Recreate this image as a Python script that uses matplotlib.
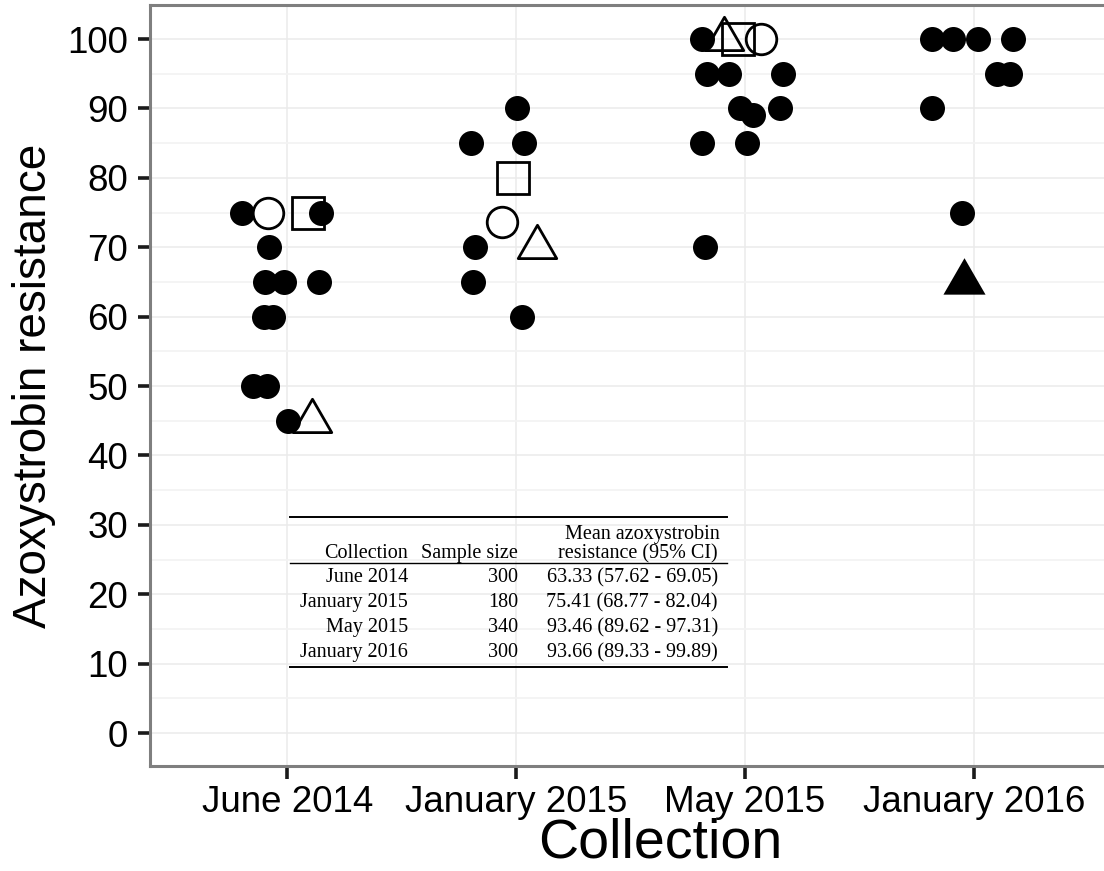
import numpy as np
import matplotlib
matplotlib.use("Agg")
import matplotlib.pyplot as plt
from matplotlib.path import Path
from matplotlib.markers import MarkerStyle

plt.rcParams['font.family'] = ['Liberation Sans', 'DejaVu Sans']

collections = ["June 2014", "January 2015", "May 2015", "January 2016"]

# one entry per isolate: collection index, horizontal jitter, resistance, symbol
pt_group = [0] * 14 + [1] * 9 + [2] * 13 + [3] * 9
pt_jitter = [-0.200, 0.148, -0.079, -0.096, -0.013, 0.140, -0.100, -0.061,
             -0.148, -0.087, 0.004, -0.083, 0.092, 0.109,
             0.004, -0.197, 0.035, -0.179, -0.188, 0.026, -0.013, -0.061, 0.092,
             -0.188, -0.166, -0.070, 0.166, -0.022, 0.035, 0.153, -0.188, 0.009,
             -0.175, -0.092, -0.031, 0.070,
             -0.183, -0.092, 0.017, 0.170, 0.100, 0.157, -0.183, -0.052, -0.044]
pt_value = [75, 75, 70, 65, 65, 65, 60, 60, 50, 50, 45, 75, 75, 45,
            90, 85, 85, 70, 65, 60, 80, 73.7, 70,
            100, 95, 95, 95, 90, 89, 90, 85, 85, 70, 100, 100, 100,
            100, 100, 100, 100, 95, 95, 90, 75, 65]
pt_kind = (["dot"] * 11 + ["circle", "square", "triangle"]
           + ["dot"] * 6 + ["square", "circle", "triangle"]
           + ["dot"] * 10 + ["triangle", "square", "circle"]
           + ["dot"] * 8 + ["solid_triangle"])

# summary table
tbl_collection = ["June 2014", "January 2015", "May 2015", "January 2016"]
tbl_n = [300, 180, 340, 300]
tbl_mean = [63.33, 75.41, 93.46, 93.66]
tbl_lo = [57.62, 68.77, 89.62, 89.33]
tbl_hi = [69.05, 82.04, 97.31, 99.89]

W, H = 1104, 871
fig = plt.figure(figsize=(W / 100, H / 100), dpi=100)
ax = fig.add_axes([150 / W, 1 - 766 / H, 961 / W, 761 / H])

tri_path = Path([(0, 1), (0.866, -0.5), (-0.866, -0.5), (0, 1)],
                [Path.MOVETO, Path.LINETO, Path.LINETO, Path.CLOSEPOLY])
styles = {
    "dot": dict(marker="o", ms=18, mfc="black", mec="none", mew=0),
    "circle": dict(marker="o", ms=22, mfc="white", mec="black", mew=2.0),
    "square": dict(marker=MarkerStyle("s", joinstyle="miter"), ms=22.5,
                   mfc="none", mec="black", mew=2.0),
    "triangle": dict(marker=MarkerStyle(tri_path, joinstyle="miter"), ms=32,
                     mfc="none", mec="black", mew=2.0),
    "solid_triangle": dict(marker=MarkerStyle(tri_path), ms=35,
                           mfc="black", mec="none", mew=0),
}

xs = np.array(pt_group) + 1 + np.array(pt_jitter)
vals = np.array(pt_value)
kinds = np.array(pt_kind)
for k in ["dot", "circle", "square", "triangle", "solid_triangle"]:
    m = kinds == k
    ax.plot(xs[m], vals[m], ls="none", zorder=3, **styles[k])

ax.set_xlim(0.4, 4.6)
ax.set_ylim(-4.75, 104.9)
ax.set_xticks(range(1, 5))
ax.set_xticklabels(collections)
ax.set_yticks(range(0, 101, 10))
ax.set_yticks(np.arange(5, 100, 10), minor=True)
ax.grid(which="major", color="#EBEBEB", lw=1.1, zorder=0)
ax.grid(which="minor", axis="y", color="#F3F3F3", lw=1.3, zorder=0)
ax.set_axisbelow(True)
ax.tick_params(which="major", length=9, width=2.6, color="#1a1a1a",
               labelsize=26.5, pad=5)
ax.tick_params(axis="y", pad=7)
ax.tick_params(which="minor", length=0)
for s in ax.spines.values():
    s.set_color("#7F7F7F")
    s.set_linewidth(2.2)
ax.spines["right"].set_visible(False)

ax.set_xlabel("Collection", fontsize=40, va="baseline")
ax.xaxis.set_label_coords((660 - 150) / 961, (766 - 857) / 761)
ax.set_ylabel("Azoxystrobin resistance", fontsize=33, labelpad=8)

# table drawn in figure pixel coordinates
def fx(px):
    return px / W

def fy(py):
    return 1 - py / H

serif = dict(family="Liberation Serif", fontsize=14.5, color="black",
             ha="right", va="baseline")
fig.add_artist(plt.Line2D([fx(290), fx(727)], [fy(517), fy(517)], color="black", lw=1.4))
fig.add_artist(plt.Line2D([fx(290), fx(727)], [fy(563), fy(563)], color="black", lw=1.0))
fig.add_artist(plt.Line2D([fx(290), fx(727)], [fy(667), fy(667)], color="black", lw=1.4))
fig.text(fx(720), fy(539), "Mean azoxystrobin", **serif)
fig.text(fx(408), fy(558), "Collection", **serif)
fig.text(fx(518), fy(558), "Sample size", **serif)
fig.text(fx(718), fy(558), "resistance (95% CI)", **serif)
for i in range(len(tbl_collection)):
    y = fy(582 + 25 * i)
    fig.text(fx(408), y, tbl_collection[i], **serif)
    fig.text(fx(518), y, str(tbl_n[i]), **serif)
    fig.text(fx(718), y, f"{tbl_mean[i]:.2f} ({tbl_lo[i]:.2f} - {tbl_hi[i]:.2f})",
             **serif)

fig.savefig("out.png", dpi=100)
